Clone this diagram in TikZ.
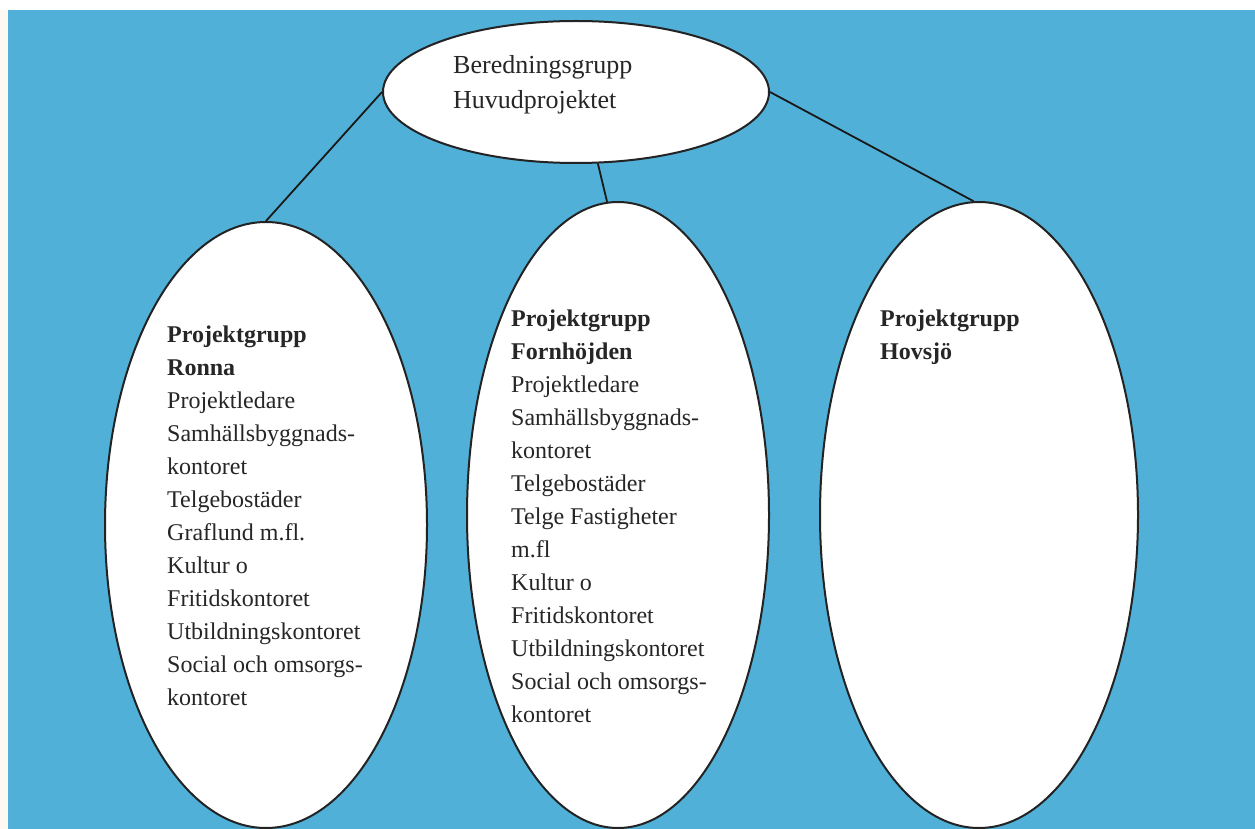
\documentclass[tikz,border=0pt]{standalone}
\usepackage{fontspec}
\setmainfont{Liberation Serif}
\usetikzlibrary{shapes.geometric}
\definecolor{bgblue}{RGB}{80,176,215}
\definecolor{offwhite}{RGB}{253,249,242}
\definecolor{inkgray}{RGB}{35,35,35}
\tikzset{
  grp/.style={ellipse, draw=inkgray, line width=2pt, fill=white, inner sep=0pt},
  conn/.style={draw=black!90, line width=1.8pt},
  txt/.style={inner sep=0pt, align=left, text=black!85, font=\fontsize{24}{33}\selectfont},
  toptxt/.style={inner sep=0pt, align=left, text=black!85, font=\fontsize{26}{35}\selectfont}
}
\begin{document}
\begin{tikzpicture}[x=1pt,y=-1pt]
\useasboundingbox (0,0) rectangle (1255,829);
\fill[offwhite] (0,0) rectangle (1255,829);
\fill[white] (0,0) rectangle (1255,10);
\fill[bgblue] (8,10) rectangle (1255,829);

\node[grp, minimum width=386pt, minimum height=142pt] (top) at (576,92) {};
\node[grp, minimum width=322pt, minimum height=606pt] (ronna) at (266,525) {};
\node[grp, minimum width=302pt, minimum height=626pt] (forn) at (618,515) {};
\node[grp, minimum width=318pt, minimum height=626pt] (hovs) at (979,515) {};

\draw[conn] (top.west) -- (ronna.north);
\draw[conn] (top.-73) -- (forn.92);
\draw[conn] (top.east) -- (hovs.91);

\node[toptxt, anchor=base west] (toptext) at (453,109) {Beredningsgrupp\\Huvudprojektet};
\node[txt, anchor=base west] (ronnatext) at (167,705) {\textbf{Projektgrupp}\\\textbf{Ronna}\\Projektledare\\Samhällsbyggnads-\\kontoret\\Telgebostäder\\Graflund m.fl.\\Kultur o\\Fritidskontoret\\Utbildningskontoret\\Social och omsorgs-\\kontoret};
\node[txt, anchor=base west] (forntext) at (511,722) {\textbf{Projektgrupp}\\\textbf{Fornhöjden}\\Projektledare\\Samhällsbyggnads-\\kontoret\\Telgebostäder\\Telge Fastigheter\\m.fl\\Kultur o\\Fritidskontoret\\Utbildningskontoret\\Social och omsorgs-\\kontoret};
\node[txt, anchor=base west] (hovstext) at (880,359) {\textbf{Projektgrupp}\\\textbf{Hovsjö}};
\end{tikzpicture}
\end{document}
